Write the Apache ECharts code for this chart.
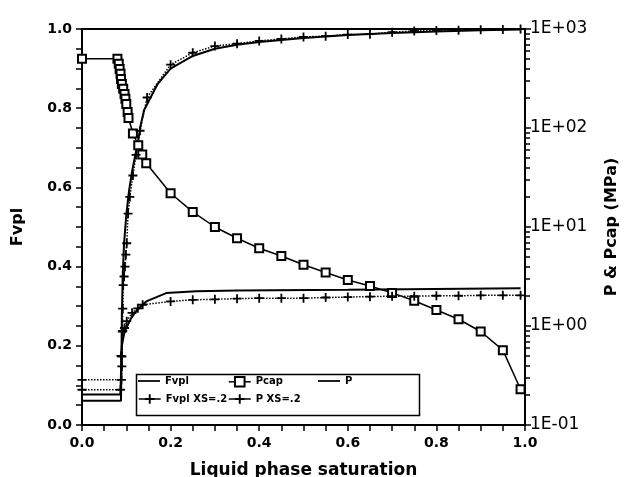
<!DOCTYPE html>
<html><head><meta charset="utf-8">
<script src="https://cdn.jsdelivr.net/npm/echarts@6/dist/echarts.min.js"></script>
<style>html,body{margin:0;padding:0;background:#fff}#c{width:624px;height:477px}</style>
</head><body><div id="c"></div>
<script>
// ---- data ----
// Fvpl (left axis)
const fvplX = [0, 0.088, 0.089, 0.090, 0.092, 0.095, 0.100, 0.106, 0.113, 0.120, 0.127, 0.133, 0.14, 0.17, 0.2, 0.25, 0.3, 0.35, 0.4, 0.5, 0.6, 0.7, 0.8, 0.9, 0.99];
const fvplY = [0.061, 0.061, 0.15, 0.28, 0.38, 0.46, 0.53, 0.59, 0.64, 0.68, 0.72, 0.76, 0.795, 0.86, 0.90, 0.932, 0.950, 0.960, 0.967, 0.977, 0.985, 0.990, 0.994, 0.997, 0.999];
// Fvpl XS=.2 (left axis)
const fvplXsX = [0, 0.089, 0.090, 0.090, 0.091, 0.092, 0.093, 0.095, 0.097, 0.099, 0.101, 0.104, 0.108, 0.115, 0.122, 0.131, 0.147, 0.2, 0.25, 0.3, 0.35, 0.4, 0.45, 0.5, 0.55, 0.6, 0.65, 0.7, 0.75, 0.8, 0.85, 0.9, 0.95, 0.99];
const fvplXsY = [0.114, 0.114, 0.148, 0.173, 0.236, 0.294, 0.353, 0.375, 0.40, 0.43, 0.459, 0.534, 0.576, 0.63, 0.682, 0.743, 0.827, 0.910, 0.940, 0.957, 0.963, 0.970, 0.975, 0.980, 0.982, 0.986, 0.987, 0.992, 0.995, 0.996, 0.997, 0.998, 0.999, 1.0];
// Pcap (right axis, MPa)
const pcapX = [0.0, 0.080, 0.083, 0.085, 0.087, 0.088, 0.090, 0.093, 0.096, 0.098, 0.100, 0.103, 0.105, 0.115, 0.127, 0.136, 0.145, 0.2, 0.25, 0.3, 0.35, 0.4, 0.45, 0.5, 0.55, 0.6, 0.65, 0.7, 0.75, 0.8, 0.85, 0.9, 0.95, 0.99];
const pcapY = [501, 501, 445, 394, 353, 313, 278, 249, 221, 198, 175, 145, 126, 88, 67, 54, 44, 21.9, 14.2, 10.0, 7.7, 6.1, 5.1, 4.15, 3.47, 2.92, 2.54, 2.16, 1.80, 1.45, 1.17, 0.88, 0.57, 0.23];
// P (right axis, MPa)
const pX = [0, 0.087, 0.088, 0.09, 0.095, 0.1, 0.11, 0.122, 0.145, 0.19, 0.258, 0.35, 0.6, 0.99];
const pY = [0.203, 0.203, 0.331, 0.631, 0.832, 0.955, 1.18, 1.41, 1.77, 2.15, 2.25, 2.29, 2.33, 2.40];
// P XS=.2 (right axis, MPa)
const pXsX = [0, 0.087, 0.088, 0.092, 0.096, 0.101, 0.113, 0.126, 0.137, 0.2, 0.25, 0.3, 0.35, 0.4, 0.45, 0.5, 0.55, 0.6, 0.65, 0.7, 0.75, 0.8, 0.85, 0.9, 0.95, 0.99];
const pXsY = [0.227, 0.227, 0.50, 0.89, 0.955, 1.12, 1.36, 1.51, 1.64, 1.77, 1.84, 1.86, 1.89, 1.91, 1.91, 1.91, 1.94, 1.96, 1.98, 2.0, 2.0, 2.02, 2.02, 2.04, 2.04, 2.04];
// right log axis minor ticks
const logMinor = [0.2,0.3,0.4,0.5,0.6,0.7,0.8,0.9, 2,3,4,5,6,7,8,9, 20,30,40,50,60,70,80,90, 200,300,400,500,600,700,800,900];
const names = ['Fvpl', 'Pcap', 'P', 'Fvpl XS=.2', 'P XS=.2'];

const zip = (a, b) => a.map((v, i) => [v, b[i]]);
const plus = 'path://M4,0H6V4H10V6H6V10H4V6H0V4H4Z';
const lineIcon = 'path://M0,0H20V1.6H0Z';
const F = 'DejaVu Sans';
const blk = '#000';
const G = {left: 82, right: 99, top: 29, bottom: 52, outerBoundsMode: 'none', containLabel: false};

const legendItem = (name, left, top, icon) => ({
  left: left, top: top, padding: 0, itemWidth: 22, itemHeight: 12,
  textStyle: {color: blk, fontFamily: F, fontWeight: 'bold', fontSize: 10},
  lineStyle: {type: 'solid', width: 1.5},
  data: [icon ? {name: name, icon: icon} : {name: name}]
});

const chart = echarts.init(document.getElementById('c'), null, {renderer: 'canvas'});
chart.setOption({
  animation: false,
  backgroundColor: '#fff',
  grid: [Object.assign({}, G), Object.assign({}, G)],
  xAxis: [{
    gridIndex: 0, type: 'value', min: 0, max: 1, interval: 0.2, position: 'bottom',
    axisLine: {lineStyle: {color: blk, width: 2}},
    axisTick: {length: 6, lineStyle: {color: blk, width: 1.5}},
    minorTick: {show: true, splitNumber: 4, length: 6, lineStyle: {color: blk, width: 1.5}},
    splitLine: {show: false},
    axisLabel: {color: blk, fontFamily: F, fontWeight: 'bold', fontSize: 14, margin: 11, formatter: v => v.toFixed(1)},
    name: 'Liquid phase saturation', nameLocation: 'middle', nameGap: 37,
    nameTextStyle: {color: blk, fontFamily: F, fontWeight: 'bold', fontSize: 17}
  }, {
    gridIndex: 0, type: 'value', min: 0, max: 1, position: 'top',
    axisLine: {show: true, onZero: false, lineStyle: {color: blk, width: 2}},
    axisTick: {show: false}, axisLabel: {show: false}, splitLine: {show: false}
  }, {
    gridIndex: 1, type: 'value', min: 0, max: 1, show: false
  }],
  yAxis: [{
    gridIndex: 0, type: 'value', min: 0, max: 1, interval: 0.2, position: 'left',
    axisLine: {show: true, lineStyle: {color: blk, width: 2}},
    axisTick: {length: 6, lineStyle: {color: blk, width: 1.5}},
    minorTick: {show: true, splitNumber: 4, length: 6, lineStyle: {color: blk, width: 1.5}},
    splitLine: {show: false},
    axisLabel: {color: blk, fontFamily: F, fontWeight: 'bold', fontSize: 14, margin: 10, formatter: v => v.toFixed(1)},
    name: 'Fvpl', nameLocation: 'middle', nameGap: 56,
    nameTextStyle: {color: blk, fontFamily: F, fontWeight: 'bold', fontSize: 16}
  }, {
    gridIndex: 0, type: 'log', logBase: 10, min: 0.1, max: 1000, position: 'right',
    axisLine: {show: true, onZero: false, lineStyle: {color: blk, width: 2}},
    axisTick: {length: 6, lineStyle: {color: blk, width: 1.5}},
    splitLine: {show: false},
    axisLabel: {color: blk, fontFamily: F, fontSize: 17, margin: 5, formatter: v => {
      const e = Math.round(Math.log10(v));
      return '1E' + (e < 0 ? '-' : '+') + String(Math.abs(e)).padStart(2, '0');
    }},
    name: 'P & Pcap (MPa)', nameLocation: 'middle', nameGap: 79,
    nameTextStyle: {color: blk, fontFamily: F, fontWeight: 'bold', fontSize: 16}
  }, {
    // minor ticks of the log axis, on an identical overlay grid
    gridIndex: 1, type: 'log', logBase: 10, min: 0.1, max: 1000, position: 'right',
    axisLine: {show: false, onZero: false}, axisLabel: {show: false}, splitLine: {show: false},
    axisTick: {show: true, customValues: logMinor, length: 5, lineStyle: {color: blk, width: 1.5}}
  }],
  graphic: [{
    type: 'rect', left: 134, top: 372, z: 0,
    shape: {width: 283, height: 41},
    style: {fill: 'none', stroke: blk, lineWidth: 1.5}
  }],
  legend: [
    legendItem(names[0], 138, 376, lineIcon),
    legendItem(names[1], 228, 376),
    legendItem(names[2], 318, 376, lineIcon),
    legendItem(names[3], 138, 394),
    legendItem(names[4], 228, 394)
  ],
  series: [{
    name: names[0], type: 'line', yAxisIndex: 0, data: zip(fvplX, fvplY),
    symbol: 'none', lineStyle: {color: blk, width: 2}, itemStyle: {color: blk}
  }, {
    name: names[1], type: 'line', yAxisIndex: 1, data: zip(pcapX, pcapY),
    symbol: 'emptyRect', symbolSize: 8, lineStyle: {color: blk, width: 1.5},
    itemStyle: {color: blk, borderColor: blk, borderWidth: 1.2}
  }, {
    name: names[2], type: 'line', yAxisIndex: 1, data: zip(pX, pY),
    symbol: 'none', lineStyle: {color: blk, width: 2}, itemStyle: {color: blk}
  }, {
    name: names[3], type: 'line', yAxisIndex: 0, data: zip(fvplXsX, fvplXsY),
    symbol: plus, symbolSize: 9, lineStyle: {color: blk, width: 1.5, type: 'dotted'}, itemStyle: {color: blk}
  }, {
    name: names[4], type: 'line', yAxisIndex: 1, data: zip(pXsX, pXsY),
    symbol: plus, symbolSize: 9, lineStyle: {color: blk, width: 1.5, type: 'dotted'}, itemStyle: {color: blk}
  }]
});
</script></body></html>
